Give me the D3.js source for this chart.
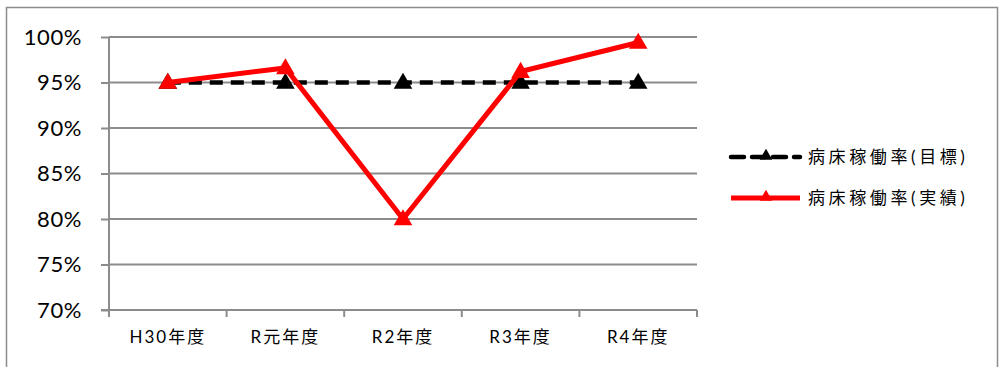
<!DOCTYPE html>
<html>
<head>
<meta charset="utf-8">
<script src="https://cdn.jsdelivr.net/npm/d3@7"></script>
<style>
	body { margin: 0; background: #fff; }
	text { font-family: Lato, "Noto Sans CJK JP", sans-serif; fill: #000; }
</style>
</head>
<body>
<script>
const categories = ["H30年度", "R元年度", "R2年度", "R3年度", "R4年度"];
const targetValues = [95, 95, 95, 95, 95];
const actualValues = [95, 96.6, 80, 96.2, 99.4];
const yTicks = [70, 75, 80, 85, 90, 95, 100];
const seriesNames = ["病床稼働率(目標)", "病床稼働率(実績)"];

const width = 1002, height = 367;
const margin = { left: 109, right: 305, top: 37, bottom: 57 };

const svg = d3.select("body").append("svg")
	.attr("width", width)
	.attr("height", height);

// outer frame
svg.append("rect")
	.attr("x", 6.5).attr("y", 7.5)
	.attr("width", 991).attr("height", 370)
	.attr("fill", "none")
	.attr("stroke", "#8c8c8c")
	.attr("stroke-width", 1.5);

const x = d3.scaleBand()
	.domain(categories)
	.range([margin.left, width - margin.right]);

const y = d3.scaleLinear()
	.domain([70, 100])
	.range([height - margin.bottom, margin.top]);

// gridlines
svg.append("g")
	.selectAll("line")
	.data(yTicks.slice(1))
	.enter().append("line")
	.attr("x1", margin.left).attr("x2", width - margin.right)
	.attr("y1", d => y(d)).attr("y2", d => y(d))
	.attr("stroke", "#8c8c8c")
	.attr("stroke-width", 2);

// y axis
const yAxis = svg.append("g")
	.attr("transform", `translate(${margin.left},0)`)
	.call(d3.axisLeft(y).tickValues(yTicks).tickFormat(d => d + "%").tickSize(8).tickPadding(19));
yAxis.selectAll("path, line").attr("stroke", "#8c8c8c").attr("stroke-width", 2);
yAxis.select("path").attr("d", `M-8,${y(70)}H0V${y(100)}`);
yAxis.selectAll("text")
	.attr("font-size", 22)
	.attr("letter-spacing", 0.6)
	.attr("font-family", "Lato, sans-serif");

// x axis with ticks at band edges
const xAxis = svg.append("g")
	.attr("transform", `translate(0,${y(70)})`)
	.call(d3.axisBottom(x).tickSize(0).tickPadding(21));
xAxis.select("path").attr("stroke", "#8c8c8c").attr("stroke-width", 2)
	.attr("d", `M${margin.left},0H${width - margin.right}`);
xAxis.selectAll("text")
	.attr("font-size", 17)
	.attr("letter-spacing", 2)
	.attr("font-family", "'Noto Sans CJK JP', sans-serif");
xAxis.selectAll(".edge")
	.data(categories.map(c => x(c) + x.bandwidth()).concat([margin.left]))
	.enter().append("line")
	.attr("class", "edge")
	.attr("x1", d => d).attr("x2", d => d)
	.attr("y1", 0).attr("y2", 7)
	.attr("stroke", "#8c8c8c").attr("stroke-width", 2);

const cx = d => x(d) + x.bandwidth() / 2;
const line = d3.line()
	.x((d, i) => cx(categories[i]))
	.y(d => y(d));

const tri = d3.symbol().type(d3.symbolTriangle).size(150)();

// target series
svg.append("path")
	.datum(targetValues)
	.attr("d", line)
	.attr("fill", "none")
	.attr("stroke", "#000")
	.attr("stroke-width", 4.5)
	.attr("stroke-dasharray", "13,8");
svg.append("g").selectAll("path")
	.data(targetValues)
	.enter().append("path")
	.attr("d", tri)
	.attr("transform", (d, i) => `translate(${cx(categories[i])},${y(d) + 1})`)
	.attr("fill", "#000");

// actual series
svg.append("path")
	.datum(actualValues)
	.attr("d", line)
	.attr("fill", "none")
	.attr("stroke", "#ff0000")
	.attr("stroke-width", 5);
svg.append("g").selectAll("path")
	.data(actualValues)
	.enter().append("path")
	.attr("d", tri)
	.attr("transform", (d, i) => `translate(${cx(categories[i])},${y(d) + 1})`)
	.attr("fill", "#ff0000");

// legend
const legend = svg.append("g");
const legendRows = [
	{ name: seriesNames[0], color: "#000", dash: "13,8", y: 157 },
	{ name: seriesNames[1], color: "#ff0000", dash: null, y: 198 }
];
legendRows.forEach(r => {
	legend.append("line")
		.attr("x1", 731).attr("x2", 800)
		.attr("y1", r.y).attr("y2", r.y)
		.attr("stroke", r.color)
		.attr("stroke-width", r.dash ? 4.5 : 5)
		.attr("stroke-dasharray", r.dash)
		.attr("stroke-linecap", r.dash ? "round" : "butt");
	legend.append("path")
		.attr("d", d3.symbol().type(d3.symbolTriangle).size(70)())
		.attr("transform", `translate(766,${r.y - 1})`)
		.attr("fill", r.color);
	legend.append("text")
		.attr("x", 808).attr("y", r.y)
		.attr("dy", "0.35em")
		.attr("font-size", 17)
		.attr("letter-spacing", 3.6)
		.attr("font-family", "'Noto Sans CJK JP', sans-serif")
		.text(r.name);
});
</script>
</body>
</html>
